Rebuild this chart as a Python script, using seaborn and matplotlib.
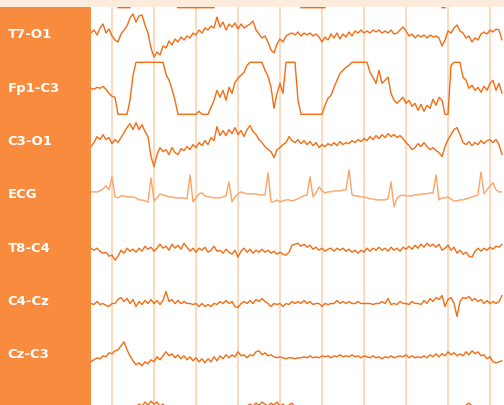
import numpy as np
import pandas as pd
import matplotlib
matplotlib.use("Agg")
import matplotlib.pyplot as plt
import matplotlib.transforms as mtransforms
from matplotlib.patches import Rectangle
import seaborn as sns

# ---------------- data (amplitudes, µV, one sample every 1/14 s) ----------------
channels = ["Fp1-F7", "T7-O1", "Fp1-C3", "C3-O1", "ECG", "T8-C4", "C4-Cz", "Cz-C3", "T8-O2"]
labelled = ["T7-O1", "Fp1-C3", "C3-O1", "ECG", "T8-C4", "C4-Cz", "Cz-C3"]

fp1_f7 = [8, 12, 6, 10, 4, 9, 3, 0, -10, -26, -26, -26, -26, -26, -8,
          4, 10, 16, 21, 24, 20, 13, 8, 3, -3, -9, -15, -20, -23,
          -26, -26, -26, -26, -26, -26, -26, -26, -26, -26, -26, -26, -26, -15,
          -6, 2, 8, 12, 15, 10, 14, 18, 21, 17, 12, 16, 20, 24, 26, 26, 26, 22, 15, 9, 14, 18, 10, 4, 12, 2, -8,
          -26, -26, -26, -26, -26, -26, -26, -26, -26, -12,
          -4, 4, 10, 16, 20, 24, 26, 26, 26, 26, 26, 20, 14, 18, 10, 6, 2, -2, 3, -1,
          -5, -3, -7, -4, -9, -6, -10, -5, -8, -4, -7, -3, -6, -2, -8, -12, -18,
          -26, -26, -10,
          10, 26, 26, 26, 14, 8, 4, 6, 2, 5, 1, 4, 0, 3, 6, 2, 4, 0]

t7_o1 = [2, 5, 0, 7, 11, 2, 6, -1, -5, -7, 1, 5, 9, 17, 21, 13, 19, 20, 10, 2,
         -13, -22, -17, -20, -11, -13, -6, -10, -4, -7, -2, -5, -1, -3, 2, 0, 5, 2, 7, 5,
         9, 7, 18, 8, 13, 5, 11, 8, 12, 6, 11, 7, 9, 11, 14, 5, 1, -3, -1, -7,
         -15, -18, -9, -4, -7, -1, 1, 2, 0, 3, -1, 2, 0, 2, -1, 1, -2, -7, -2, -5,
         1, -3, 2, -4, 1, -2, 3, -1, 4, 2, 5, 2, 4, 2, 5, 3, 5, 2, 4, 2,
         5, 1, 2, 5, 8, 4, -1, 1, -3, 0, -2, 0, -3, 0, -2, -1, -3, -11, -5, 4,
         2, 7, 10, 4, 2, -3, -1, -7, -3, -5, 1, 3, 1, 5, 3, 6, 5, -5]

fp1_c3 = [0, -1, 1, 0, 2, -1, -5, -8, -9, -26, -26, -26, -26, -12, 13, 26, 26, 26, 26, 26,
          26, 26, 26, 26, 26, 14, 8, -1, -12, -26, -26, -26, -26, -26, -26, -26, -23, -26, -26, -26,
          -19, -12, -2, -9, -2, -12, 1, -5, 6, 10, 13, 16, 23, 26, 26, 26, 26, 26, 18, 12,
          1, -20, -5, 5, -5, 26, 26, 26, 26, -12, -26, -26, -26, -26, -26, -26, -26, -26, -17, -10,
          -7, 1, 8, 15, 18, 21, 23, 26, 26, 26, 26, 26, 26, 16, 11, 5, 18, 5, 8, 11,
          -5, -12, -15, -12, -9, -15, -12, -18, -15, -22, -16, -23, -17, -20, -11, -17, -9, -12, -26, -26,
          23, 26, 26, 26, 11, 8, 0, 3, -2, 1, -4, 2, -2, 5, 8, -2, 5, -5]

c3_o1 = [-5, -1, 5, 2, 7, 2, 4, -2, 2, -1, 4, 9, 14, 18, 12, 19, 12, 17, 10, 5,
         -15, -25, -13, -6, -10, -8, -13, -6, -11, -13, -7, -9, -5, -8, -3, -6, -1, -4, 1, -3,
         4, 1, 15, 6, 11, 6, 12, 8, 14, 7, 11, 5, 12, 16, 10, 7, 2, -1, -5, -8,
         -10, -16, -8, -6, -3, -1, 5, 1, -1, 2, -2, 1, -3, 0, -4, -1, -6, -3, -5, -2,
         -4, -1, -4, 0, -3, -1, -2, 1, -1, 2, 0, 3, 1, 5, 2, 6, 3, 7, 4, 8,
         5, 7, 4, 6, 3, -1, -4, -8, -6, -2, -5, -1, -5, -8, -6, -9, -11, -15, -5, 2,
         7, 12, 14, 7, -1, -3, 0, -4, -1, -3, 1, -2, 1, 2, -1, 2, -3, -13]

ecg = [3, 3, 3, 4, 6, 9, 5, 18, -2, -3, -1, -1, -2, -2, -2, -3, -5, -5, -6, -7,
       17, -6, -3, 1, 0, -1, -2, -2, -3, -3, -3, -3, -4, 20, -7, -3, 1, 2, -1, -2,
       -2, -3, -3, -3, -2, -1, 13, -7, -2, 1, 3, 2, 1, 1, 1, 1, 0, 0, 0, 22,
       -7, -7, -5, -7, -6, -5, -5, -6, -5, -4, -2, -1, 0, 18, -2, 2, 8, 4, 2, 3,
       3, 4, 4, 4, 5, 5, 25, 0, -1, -1, -2, -2, -3, -4, -4, -5, -5, -5, -5, -4,
       13, -12, -3, -1, 0, -1, -1, -1, 0, 0, 1, 1, 1, 2, 2, 20, -5, -3, -3, -2,
       -4, -6, -6, -5, -5, -4, -3, -2, -1, 0, 23, 1, 5, 9, 12, 5, 3, 3]

t8_c4 = [0, -2, 0, -3, -5, -4, -8, -7, -12, -8, -2, -5, 0, -3, -1, -4, 0, -3, 2, -1,
         1, -3, 0, 4, 0, 2, -2, 4, 0, 3, -1, 5, 1, -3, 0, -4, 0, -2, 1, -4,
         -2, 2, -3, -2, -5, -1, -4, -6, -2, -9, -3, 0, -4, -1, -5, -2, -4, -1, -4, -2,
         -5, -3, -6, -4, -6, -7, -4, 3, 4, 5, 2, 4, 1, 3, -1, 1, -2, 0, -3, -1,
         0, -3, 0, -2, 0, -3, -1, -4, -2, -5, -2, -4, 0, -3, 0, -2, 1, -2, 0, -3,
         1, -2, 0, -3, 1, -1, 2, -1, 3, 0, 4, 1, 5, 2, 4, 1, 4, -2, 0, 3,
         -2, 1, -5, -2, -6, -4, -8, -9, -3, 0, -3, 0, -2, 1, -1, 2, 1, 4]

c4_cz = [-2, -3, 0, -3, -2, -4, -5, -2, -2, 2, 4, 0, 3, -2, 2, -5, 0, -3, 1, -2,
         2, -2, 1, -3, 1, 10, 0, 2, -2, 1, -2, 0, -2, -2, -3, -2, -5, -2, -5, -3,
         -5, -2, -3, 0, -2, 1, -2, 0, -5, -6, -2, 0, -2, 1, -2, 2, 0, 3, 0, -2,
         -5, -2, -3, -2, -5, -2, -3, 0, -2, 0, -2, 1, -2, 0, -3, -2, -2, -5, -2, -3,
         -2, -2, 1, -2, 0, -2, 0, -2, -2, 0, -2, -2, -2, -2, -3, -2, -2, 0, -2, 3,
         -3, -2, -3, 0, -2, -2, -3, 0, -2, -2, -3, 1, -2, 3, 0, 4, 2, 6, -5, 2,
         4, -2, -15, 0, 4, 3, 5, 1, 3, 0, 2, -2, 1, -2, 0, -2, 0, 6]

cz_c3 = [-7, -5, -3, -4, -1, -2, 2, 1, 4, 5, 9, 13, 5, -1, -6, -10, -8, -11, -7, -9,
         -5, -7, -2, -5, -1, 3, -1, 1, -3, 0, -4, -1, -5, -2, -6, -3, -7, -4, -8, -4,
         -7, -2, -6, -1, -4, 0, -3, 0, -2, 3, -1, 0, -3, 0, -1, 3, 4, 0, 2, -1,
         0, -2, -3, -2, -3, -4, -3, -3, -4, -3, -3, -2, -3, -1, -3, -2, -3, -1, -2, -1,
         -3, -1, -2, 0, -2, -1, -2, 0, -2, -1, -3, -1, -2, -3, -1, -3, -2, -4, -2, -3,
         -1, -3, -2, -1, -2, 0, -3, -1, -3, -2, -3, -1, -3, 0, -2, 1, -2, 1, -1, 3,
         0, 2, -1, 1, -1, 3, 0, 4, 1, 3, -1, 0, -4, -2, -7, -8, -7, -6]

t8_o2 = [-4, -8, -3, -6, -10, -5, -2, -7, -3, -9, -6, -1, -4, 0, -3, 1,
         4, 2, 6, 3, 7, 4, 6, 2, 4,
         0, -3, -6, -2, -8, -5, -9, -4, -7, -3, -6, -2, -5, -1, -4, -7, -3, -8, -4, -6,
         -2, -5, -1, -3, 0, -2, 1, 2,
         4, 2, 5, 3, 6, 4, 2, 5, 3, 6, 2, 4, 1, 3, 5,
         0, -3, -6, -4, -8, -5, -9, -6, -10, -7, -4, -8, -5, -9, -6, -3, -7, -4, -8, -5,
         -2, -6, -3, -7, -4, -8, -5, -9, -6, -3, -7, -4, -1, -5, -2, -6, -3, -7, -4, -8,
         -5, -2, -6, -3, -7, -4, -1, -5, -2, -6, -3, -1, -4, -2, 0, -2, 1,
         3, 5, 2, 0, -3, -1, -5, -2, -6, -3, -7, -4, -2]

series = [fp1_f7, t7_o1, fp1_c3, c3_o1, ecg, t8_c4, c4_cz, cz_c3, t8_o2]

fs = 14.0            # samples per second
t_start = 9.507      # seconds at left edge of the page
page_len = 9.833     # seconds shown
clip_uv = 26.0       # amplifier clipping
spacing = 53.3       # vertical distance between channels

# ---------------- build long table ----------------
frames = []
for k, (name, vals) in enumerate(zip(channels, series)):
    v = np.clip(np.asarray(vals, dtype=float), -clip_uv, clip_uv)
    t = t_start + np.arange(len(v)) / fs
    frames.append(pd.DataFrame({"time": t, "amp": v, "channel": name,
                                "y": v - k * spacing}))
df = pd.concat(frames, ignore_index=True)

trace_col = "#f26d14"
ecg_col = "#fba466"
palette = {c: (ecg_col if c == "ECG" else trace_col) for c in channels}

# ---------------- figure ----------------
sns.set_style("white")
plt.rcParams["font.family"] = ["DejaVu Sans"]

W, H = 504, 405
fig = plt.figure(figsize=(W / 100, H / 100), dpi=100)
fig.patch.set_facecolor("white")

head_px = 7
panel_px = 91
fig.patches.append(Rectangle((0, 1 - head_px / H), 1, head_px / H,
                             transform=fig.transFigure, facecolor="#fdebdc",
                             edgecolor="none", zorder=0))

ax_left = fig.add_axes([0, 0, panel_px / W, (H - head_px) / H])
ax_left.set_facecolor("#f98b3f")
ax_left.set_xticks([]); ax_left.set_yticks([])
for s in ax_left.spines.values():
    s.set_visible(False)

ax = fig.add_axes([panel_px / W, 0, (W - panel_px) / W, (H - head_px) / H])
ax.set_facecolor("white")

sns.lineplot(data=df, x="time", y="y", hue="channel", palette=palette,
             estimator=None, sort=False, legend=False, linewidth=1.0, ax=ax)

top_y = -25.3
ax.set_ylim(top_y - (H - head_px), top_y)
ax.set_xlim(t_start, t_start + page_len)
ax.set_xticks(np.arange(10, 20))
ax.set_yticks([])
ax.grid(axis="x", color="#fdd9bd", linewidth=1.4)
ax.grid(axis="y", visible=False)
ax.set_axisbelow(True)
ax.tick_params(length=0, labelbottom=False, labelleft=False)
ax.set_xlabel(""); ax.set_ylabel("")
for s in ax.spines.values():
    s.set_visible(False)

trans = mtransforms.blended_transform_factory(fig.transFigure, ax.transData)
for k, name in enumerate(channels):
    if name in labelled:
        fig.text(7.5 / W, -k * spacing, name, transform=trans, color="white",
                 fontsize=9.5, fontweight="bold", ha="left", va="center")

fig.savefig("out.png", dpi=100, facecolor=fig.get_facecolor())
